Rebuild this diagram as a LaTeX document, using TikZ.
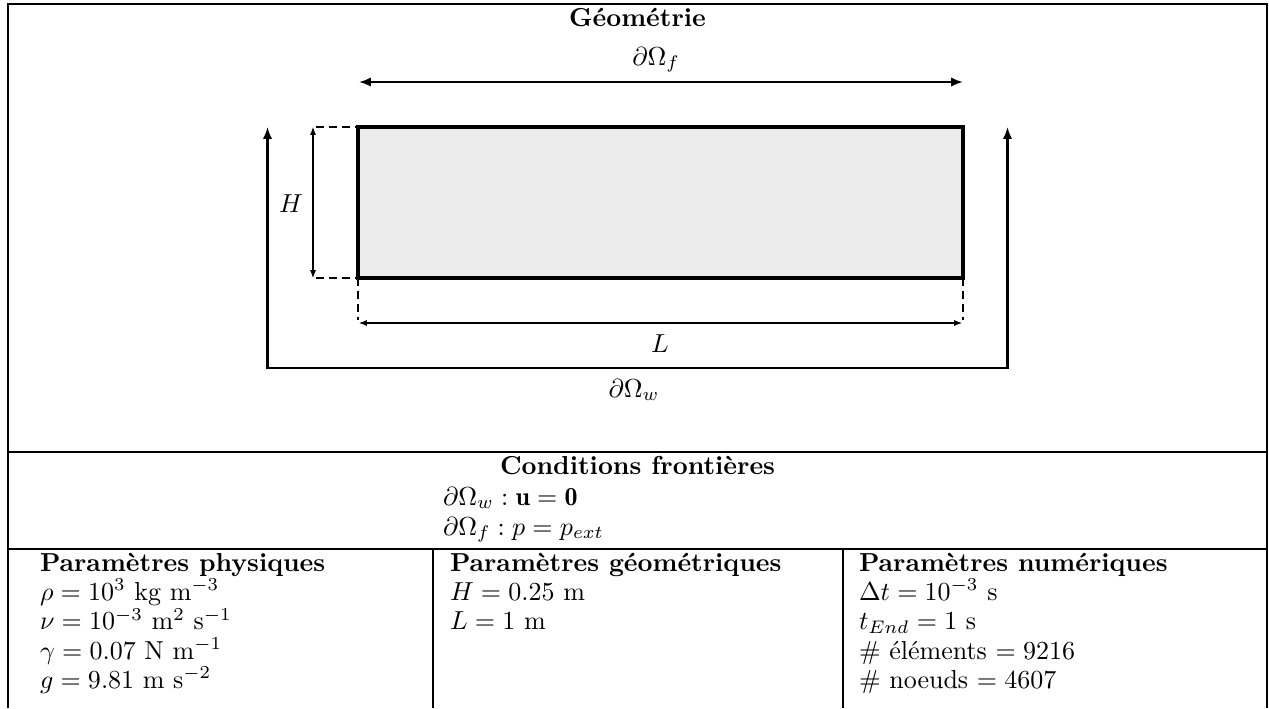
\documentclass[tikz,border=0pt]{standalone}
\usepackage{fontspec}
\usetikzlibrary{arrows.meta}
\begin{document}
\begin{tikzpicture}[x=0.3846pt,y=-0.3846pt,
  txt/.style={inner sep=0pt,outer sep=0pt,font=\fontsize{10pt}{12pt}\selectfont},
  tableline/.style={line width=0.4pt,black},
  fluidbox/.style={line width=1.2pt,fill=gray!15},
  bothbig/.style={line width=0.8pt,{Latex[length=4.6pt,width=3.6pt]}-{Latex[length=4.6pt,width=3.6pt]}},
  dimarrow/.style={line width=0.4pt,{Latex[length=3pt,width=2.3pt]}-{Latex[length=3pt,width=2.3pt]}},
  extline/.style={line width=0.4pt,dash pattern=on 3pt off 2pt},
  wallline/.style={line width=0.8pt}]
\useasboundingbox (0,0) rectangle (1269,708);
% table frame
\coordinate (TL) at (8,4);
\coordinate (TR) at (1267,4);
\coordinate (BL) at (8,708);
\coordinate (BR) at (1267,708);
\coordinate (S1L) at (8,452);
\coordinate (S1R) at (1267,452);
\coordinate (S2L) at (8,549);
\coordinate (S2R) at (1267,549);
\coordinate (D1T) at (433,549);
\coordinate (D1B) at (433,708);
\coordinate (D2T) at (843,549);
\coordinate (D2B) at (843,708);
\draw[tableline] (BL) -- (TL) -- (TR) -- (BR);
\draw[tableline] (S1L) -- (S1R);
\draw[tableline] (S2L) -- (S2R);
\draw[tableline] (D1T) -- (D1B);
\draw[tableline] (D2T) -- (D2B);
% title
\node[txt,anchor=base] (title) at (637.5,26) {\textbf{Géométrie}};
% geometry
\coordinate (RA) at (358,127);
\coordinate (RB) at (963,278);
\coordinate (RBL) at (358,278);
\coordinate (RTR) at (963,127);
\draw[fluidbox] (RA) rectangle (RB);
% dOmega_f arrow
\coordinate (FL) at (359,82);
\coordinate (FR) at (963,82);
\draw[bothbig] (FL) -- (FR);
\node[txt,anchor=base] (lf) at (656,65) {$\partial\Omega_f$};
% H dimension
\coordinate (HT) at (313,127);
\coordinate (HB) at (313,278);
\coordinate (HTd) at (316,127);
\coordinate (HBd) at (316,278);
\draw[extline] (HTd) -- (RA);
\draw[extline] (HBd) -- (RBL);
\draw[dimarrow] (HT) -- (HB);
\node[txt,anchor=base] (lh) at (291,212.5) {$H$};
% L dimension
\coordinate (LLd) at (358,320);
\coordinate (LRd) at (963,320);
\coordinate (LL) at (359,323);
\coordinate (LR) at (962,323);
\draw[extline] (RBL) -- (LLd);
\draw[extline] (RB) -- (LRd);
\draw[dimarrow] (LL) -- (LR);
\node[txt,anchor=base] (ll) at (660,352) {$L$};
% wall
\coordinate (WLt) at (267.5,127);
\coordinate (WLb) at (267.5,368);
\coordinate (WRb) at (1007.5,368);
\coordinate (WRt) at (1007.5,127);
\draw[wallline,{Latex[length=4.6pt,width=3.6pt]}-{Latex[length=4.6pt,width=3.6pt]}] (WLt) -- (WLb) -- (WRb) -- (WRt);
\node[txt,anchor=base] (lw) at (634,397) {$\partial\Omega_w$};
% boundary conditions
\node[txt,anchor=base] (bct) at (637.5,474) {\textbf{Conditions frontières}};
\node[txt,anchor=base west] (bc1) at (443,505) {$\partial\Omega_w : \mathbf{u} = \mathbf{0}$};
\node[txt,anchor=base west] (bc2) at (443,535) {$\partial\Omega_f : p = p_{ext}$};
% column 1
\node[txt,anchor=base west] (c1h) at (40,571) {\textbf{Paramètres physiques}};
\node[txt,anchor=base west] (c1a) at (40,600) {$\rho = 10^3$ kg m$^{-3}$};
\node[txt,anchor=base west] (c1b) at (40,629.5) {$\nu = 10^{-3}$ m$^2$ s$^{-1}$};
\node[txt,anchor=base west] (c1c) at (40,659) {$\gamma = 0.07$ N m$^{-1}$};
\node[txt,anchor=base west] (c1d) at (40,688) {$g = 9.81$ m s$^{-2}$};
% column 2
\node[txt,anchor=base west] (c2h) at (450,571) {\textbf{Paramètres géométriques}};
\node[txt,anchor=base west] (c2a) at (450,600) {$H = 0.25$ m};
\node[txt,anchor=base west] (c2b) at (450,629.5) {$L = 1$ m};
% column 3
\node[txt,anchor=base west] (c3h) at (859,571) {\textbf{Paramètres numériques}};
\node[txt,anchor=base west] (c3a) at (859,600) {$\Delta t = 10^{-3}$ s};
\node[txt,anchor=base west] (c3b) at (859,629.5) {$t_{End} = 1$ s};
\node[txt,anchor=base west] (c3c) at (859,659) {\# éléments $= 9216$};
\node[txt,anchor=base west] (c3d) at (859,688) {\# noeuds $= 4607$};
\end{tikzpicture}
\end{document}
